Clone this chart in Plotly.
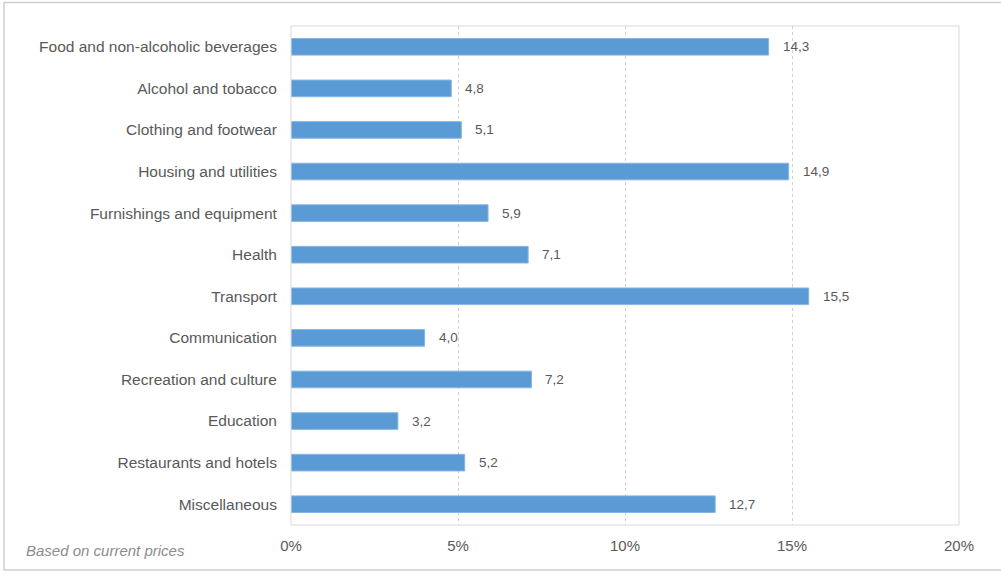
import plotly.graph_objects as go

categories = ["Food and non-alcoholic beverages", "Alcohol and tobacco", "Clothing and footwear",
              "Housing and utilities", "Furnishings and equipment", "Health", "Transport",
              "Communication", "Recreation and culture", "Education", "Restaurants and hotels",
              "Miscellaneous"]
values = [14.3, 4.8, 5.1, 14.9, 5.9, 7.1, 15.5, 4.0, 7.2, 3.2, 5.2, 12.7]
value_labels = ["14,3", "4,8", "5,1", "14,9", "5,9", "7,1", "15,5", "4,0", "7,2", "3,2", "5,2", "12,7"]
tick_vals = [0, 5, 10, 15, 20]
tick_text = ["0%", "5%", "10%", "15%", "20%"]
note = "Based on current prices"

W, H = 1001, 575
L, R, T, B = 291, 42, 26, 50
pw, ph = W - L - R, H - T - B

def px_x(x):
    return (x - L) / pw

def px_y(y):
    return (H - B - y) / ph

FONT = "Liberation Sans, Arial"
fig = go.Figure()
fig.add_trace(go.Bar(
    y=categories, x=values, orientation="h",
    marker=dict(color="#5b9bd5", line=dict(color="#86b6e2", width=1)),
    width=0.4, hoverinfo="skip",
))

annotations = []
for c, v, t in zip(categories, values, value_labels):
    annotations.append(dict(x=v, y=c, xref="x", yref="y", text=t, showarrow=False,
                            xanchor="left", xshift=12,
                            font=dict(family=FONT, size=13.5, color="#595959")))
annotations.append(dict(x=px_x(24), y=px_y(550), xref="paper", yref="paper", text="<i>" + note + "</i>",
                        showarrow=False, xanchor="left", yanchor="middle",
                        font=dict(family=FONT, size=15, color="#8c8c8c")))

shapes = [
    dict(type="rect", xref="paper", yref="paper", x0=0, x1=1, y0=0, y1=1,
         line=dict(color="#d9d9d9", width=1), layer="above"),
    dict(type="rect", xref="paper", yref="paper", x0=px_x(4), x1=px_x(1010), y0=px_y(570), y1=px_y(2.5),
         line=dict(color="#d0d0d0", width=1.5), layer="below"),
]

fig.update_layout(
    width=W, height=H, margin=dict(l=L, r=R, t=T, b=B, pad=0),
    paper_bgcolor="white", plot_bgcolor="white", showlegend=False,
    font=dict(family=FONT, size=15, color="#595959"),
    xaxis=dict(range=[0, 20], tickvals=tick_vals, ticktext=tick_text, showgrid=True,
               gridcolor="#d0d0d0", griddash="3px,3px", gridwidth=1, zeroline=False,
               showline=False, ticks="", ticklen=0,
               tickfont=dict(family=FONT, size=15, color="#595959")),
    yaxis=dict(categoryorder="array", categoryarray=categories, autorange="reversed",
               range=[11.5, -0.5], showgrid=False, zeroline=False, showline=False,
               ticks="outside", ticklen=10, tickcolor="rgba(0,0,0,0)",
               tickfont=dict(family=FONT, size=15.5, color="#595959")),
    annotations=annotations, shapes=shapes,
)
fig.update_xaxes(ticklabelstandoff=10)

fig.write_html("out.html")
